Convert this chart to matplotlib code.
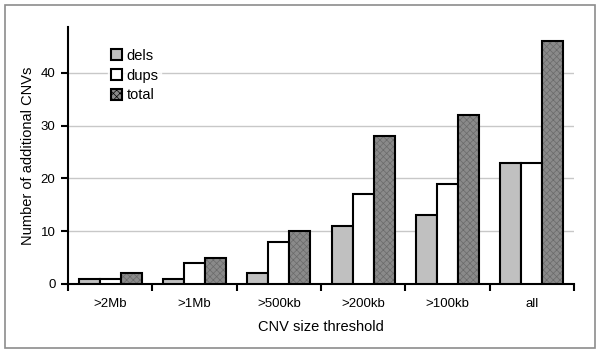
import matplotlib
matplotlib.use("Agg")
import matplotlib.pyplot as plt
import numpy as np
from matplotlib.patches import Rectangle

plt.rcParams['font.family'] = ['Liberation Sans', 'DejaVu Sans']
plt.rcParams['hatch.linewidth'] = 0.5

# data
categories = [">2Mb", ">1Mb", ">500kb", ">200kb", ">100kb", "all"]
dels = [1, 1, 2, 11, 13, 23]
dups = [1, 4, 8, 17, 19, 23]
total = [2, 5, 10, 28, 32, 46]

fig = plt.figure(figsize=(6, 3.55), dpi=100)
# grey frame around the whole chart
fig.patches.append(Rectangle((5 / 600, 7 / 355), 590 / 600, 343 / 355,
                             transform=fig.transFigure, fill=False,
                             edgecolor="#8c8c8c", linewidth=1.2))

ax = fig.add_axes([68 / 600, 71 / 355, 506 / 600, 257 / 355])

x = np.arange(len(categories))
w = 0.25
ax.bar(x - w, dels, w, color="#c0c0c0", edgecolor="black", linewidth=1.5, label="dels", zorder=3)
ax.bar(x, dups, w, color="white", edgecolor="black", linewidth=1.5, label="dups", zorder=3)
# stippled fill first (grey hatch), then black outline on top
ax.bar(x + w, total, w, color="#8a8a8a", edgecolor="#6a6a6a", linewidth=0,
       hatch="xxxxx", zorder=3)
ax.bar(x + w, total, w, fill=False, edgecolor="black", linewidth=1.5, zorder=4)
ax.bar([0], [0], 0, color="#8a8a8a", edgecolor="black", linewidth=1.5,
       hatch="xxxxx", label="total")

ax.set_xlim(-0.5, len(categories) - 0.5)
ax.set_ylim(0, 48.7)
ax.set_yticks([0, 10, 20, 30, 40])
ax.yaxis.grid(True, color="#c8c8c8", linewidth=1)
ax.set_axisbelow(True)

ax.set_xticks(x)
ax.set_xticklabels(categories, fontsize=9.5)
ax.tick_params(axis="x", length=0, pad=10)
ax.set_xticks(np.arange(len(categories) + 1) - 0.5, minor=True)
ax.tick_params(axis="x", which="minor", length=5, width=1.5, direction="out")
ax.tick_params(axis="y", length=5, width=1.5, labelsize=9.5, pad=4)

for s in ["top", "right"]:
    ax.spines[s].set_visible(False)
ax.spines["left"].set_linewidth(1.5)
ax.spines["bottom"].set_linewidth(1.5)

ax.set_ylabel("Number of additional CNVs", fontsize=10.5, labelpad=4)
ax.set_xlabel("CNV size threshold", fontsize=10.5, labelpad=7)

leg = ax.legend(loc="upper left", bbox_to_anchor=(0.065, 0.955), frameon=True,
                fontsize=10.5, handlelength=0.75, handleheight=0.75,
                handletextpad=0.3, labelspacing=0.4, borderpad=0.2)
leg.get_frame().set_facecolor("white")
leg.get_frame().set_edgecolor("white")

fig.savefig("out.png", dpi=100)
